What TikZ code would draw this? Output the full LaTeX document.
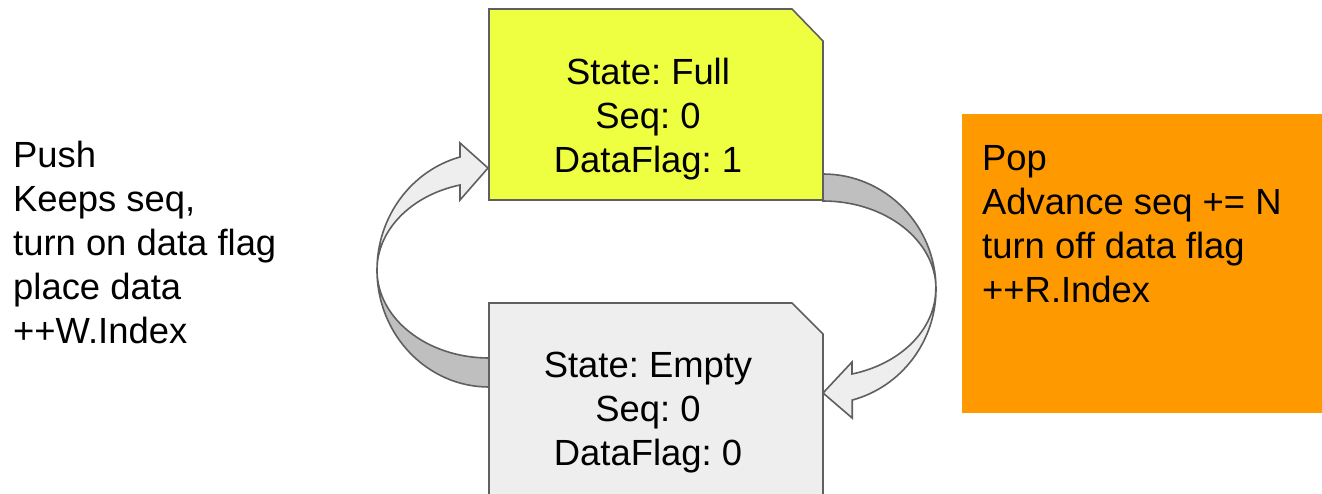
\documentclass[tikz,border=0pt]{standalone}
\usepackage{fontspec}
\setmainfont{Liberation Sans}
\usetikzlibrary{calc}
\definecolor{fullyellow}{HTML}{EEFF41}
\definecolor{emptygray}{HTML}{EEEEEE}
\definecolor{bandgray}{HTML}{BFBFBF}
\definecolor{linegray}{HTML}{5F5F5F}
\definecolor{poporange}{HTML}{FF9900}
\frenchspacing
\begin{document}
\begin{tikzpicture}[x=1pt,y=-1pt,
    spot/.style={inner sep=0,outer sep=0,minimum width=334pt,minimum height=191pt},
    outline/.style={draw=linegray,line width=1.6pt,line join=miter},
    words/.style={inner sep=0,font=\fontsize{36.4}{44}\selectfont},
    back/.style={outline,fill=bandgray},
    front/.style={outline,fill=emptygray}]
     \clip (0,0) rectangle (1322,493);
     \node[spot] (full) at (656,104.5) {};
     \node[spot,minimum height=220pt,anchor=north] (empty) at (656,303) {};
     \node[fill=poporange,inner sep=0,minimum width=360pt,minimum height=299pt,anchor=north west] (popbox) at (962,114) {};
     \filldraw[back] ($(empty.north west)+(0,84)$) arc[start angle=90,end angle=180,x radius=112,y radius=117]
       arc[start angle=180,end angle=90,x radius=112,y radius=88] -- cycle;
     \filldraw[front] ($(empty.north west)+(-112,-33)$) arc[start angle=180,end angle=255,x radius=112,y radius=117]
       -- ++(0,-14) -- ($(full.south west)+(-1,-32)$) -- ++(-28,32) -- ++(0,-15)
       arc[start angle=255,end angle=180,x radius=112,y radius=88] -- cycle;
     \filldraw[back] ($(full.south east)+(0,-26)$) arc[start angle=270,end angle=360,x radius=113,y radius=115]
       arc[start angle=0,end angle=-90,x radius=113,y radius=88] -- cycle;
     \filldraw[front] ($(full.south east)+(113,89)$) arc[start angle=0,end angle=75,x radius=113,y radius=115]
       -- ++(0,18) -- ($(empty.north east)+(0,90)$) -- ++(29,-31) -- ++(0,12)
       arc[start angle=75,end angle=0,x radius=113,y radius=88] -- cycle;
     \filldraw[outline,fill=fullyellow] (full.south west) |- ($(full.north east)+(-31,0)$) -- ($(full.north east)+(0,32)$) -- (full.south east) -- cycle;
     \filldraw[outline,fill=emptygray] (empty.south west) |- ($(empty.north east)+(-31,0)$) -- ($(empty.north east)+(0,31)$) -- (empty.south east) -- cycle;
     \node[words,align=center,anchor=base] (fulltext) at ($(full.north west)+(159,163)$) {State: Full\\Seq: 0\\DataFlag: 1};
     \node[words,align=center,anchor=base] (emptytext) at ($(empty.north west)+(159,162)$) {State: Empty\\Seq: 0\\DataFlag: 0};
     \node[words,align=left,anchor=base west] (push) at (13,343) {Push\\Keeps seq,\\turn on data flag\\place data\\++W.Index};
     \node[words,align=left,anchor=base west] (pop) at ($(popbox.north west)+(20,188)$) {Pop\\Advance seq += N\\turn off data flag\\++R.Index};
\end{tikzpicture}
\end{document}
